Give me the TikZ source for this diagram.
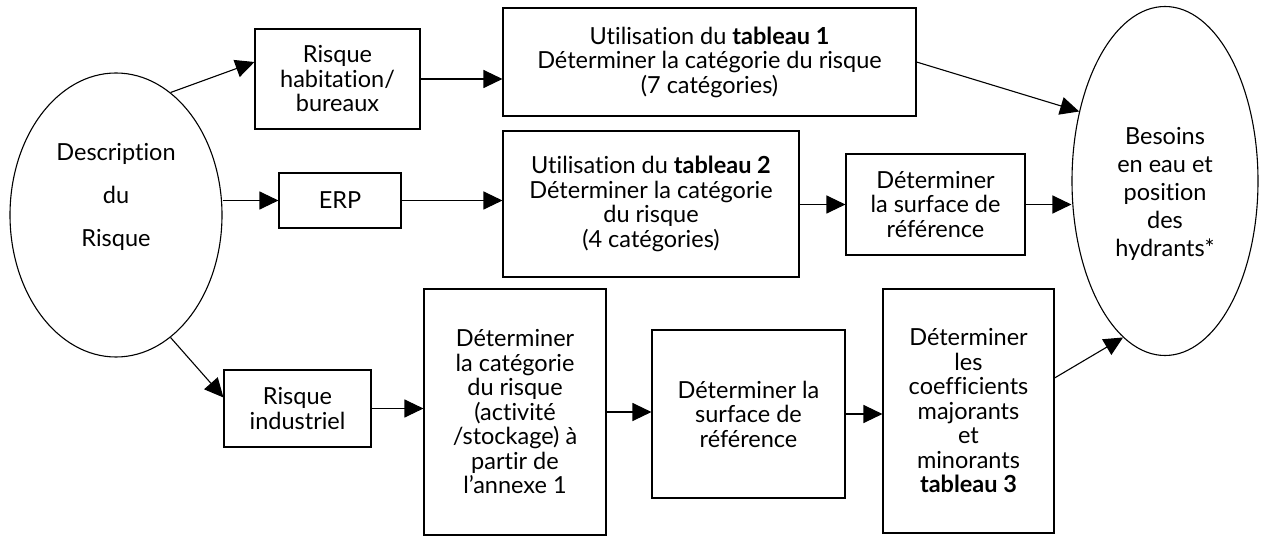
\documentclass[tikz,border=0pt]{standalone}
\usepackage{fontspec}
\setmainfont{Lato}[Ligatures={NoCommon}]
\usetikzlibrary{arrows.meta,shapes.geometric}
\begin{document}
\begin{tikzpicture}[x=1pt,y=-1pt,line width=1.1pt,
    box/.style={draw,inner sep=0pt,align=center,font=\fontsize{23.5}{24.5}\selectfont},
    oval/.style={draw,ellipse,inner sep=0pt},
    arr/.style={-{Triangle[length=19pt,width=18pt]}}]
  \useasboundingbox (0,0) rectangle (1269,537);
  \node[oval,minimum width=212,minimum height=284] (desc) at (116,215) {};
  \node[align=center,font=\fontsize{23.5}{43}\selectfont] (desctxt) at (116,197) {Description\\du\\Risque};
  \node[oval,minimum width=186,minimum height=349] (bes) at (1165,181) {};
  \node[align=center,font=\fontsize{23.5}{28}\selectfont] (bestxt) at (1165,194) {Besoins\\en eau et\\position\\des\\hydrants*};
  \node[box,minimum width=165,minimum height=100] (hab) at (337.5,79) {Risque\\habitation/\\bureaux};
  \node[box,minimum width=413,minimum height=108] (t1) at (709.5,62) {Utilisation du \textbf{tableau 1}\\Déterminer la catégorie du risque\\(7 catégories)};
  \node[box,minimum width=122,minimum height=55] (erp) at (340,200.5) {ERP};
  \node[box,minimum width=296,minimum height=146] (t2) at (651,204) {Utilisation du \textbf{tableau 2}\\Déterminer la catégorie\\du risque\\(4 catégories)};
  \node[box,minimum width=179,minimum height=101] (s1) at (935.5,204.5) {Déterminer\\la surface de\\référence};
  \node[box,minimum width=147,minimum height=77] (ind) at (297.5,408.5) {Risque\\industriel};
  \node[box,minimum width=182,minimum height=246] (det) at (515,412) {Déterminer\\la catégorie\\du risque\\(activité\\/stockage) à\\partir de\\l’annexe 1};
  \node[box,minimum width=193,minimum height=168] (s2) at (748.5,414) {Déterminer la\\surface de\\référence};
  \node[box,minimum width=171,minimum height=244] (coef) at (968.5,411) {Déterminer\\les\\coefficients\\majorants\\et\\minorants\\\textbf{tableau 3}};
  \draw[arr] (desc.66) -- ([yshift=17pt]hab.west);
  \draw[arr] (erp.west -| desc.east) -- (erp.west);
  \draw[arr] (desc.-66) -- ([yshift=11pt]ind.west);
  \draw[arr] (hab.east) -- (hab.east -| t1.west);
  \draw[arr] (erp.east) -- (erp.east -| t2.west);
  \draw[arr] (t2.east |- s1.west) -- (s1.west);
  \draw[arr] (t1.east) -- (bes.141);
  \draw[arr] (s1.east) -- (s1.east -| bes.west);
  \draw[arr] (ind.east) -- (ind.east -| det.west);
  \draw[arr] (det.east) -- (det.east -| s2.west);
  \draw[arr] (s2.east) -- (s2.east -| coef.west);
  \draw[arr] ([yshift=33pt]coef.east) -- (bes.255);
\end{tikzpicture}
\end{document}
